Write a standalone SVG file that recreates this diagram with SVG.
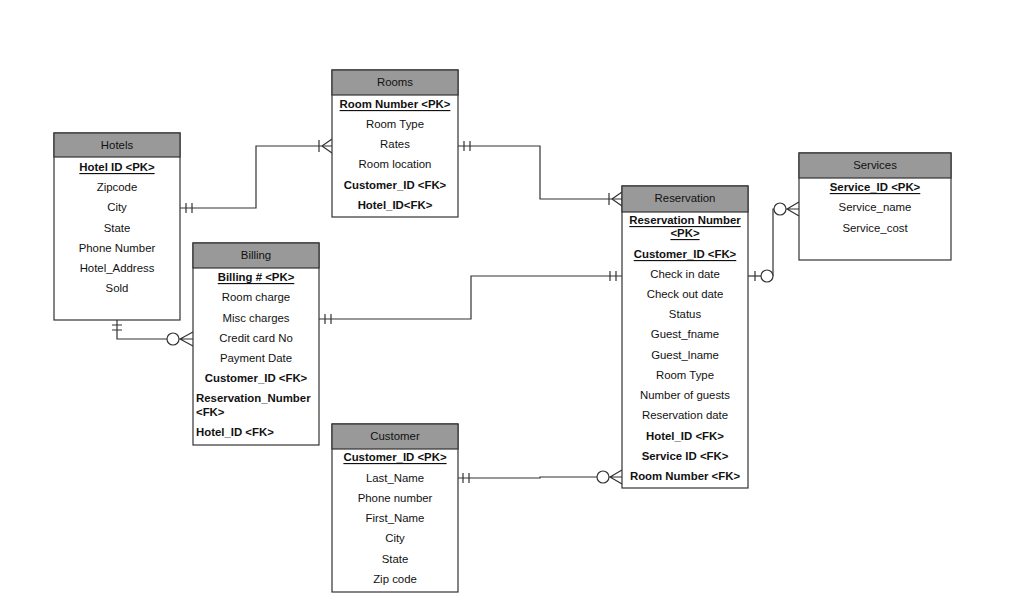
<svg xmlns="http://www.w3.org/2000/svg" width="1024" height="607" viewBox="0 0 1024 607">
<style>
.box{fill:#fff;stroke:#333;stroke-width:1.2}
.hdr{fill:#999;stroke:#333;stroke-width:1.2}
text{font-family:"Liberation Sans",Arial,sans-serif;font-size:11.4px;fill:#111;text-anchor:middle;dominant-baseline:central}
.b{font-weight:bold}
.u{text-decoration:underline}
.l{text-anchor:start}
.c{fill:none;stroke:#333;stroke-width:1.2}
.o{fill:#fff;stroke:#333;stroke-width:1.2}
</style>
<rect width="1024" height="607" fill="#fff"/>
<g id="connectors">
<!-- Hotels - Rooms -->
<polyline class="c" points="180,208 256,208 256,146 332,146"/>
<path class="c" d="M186,203V213M192,203V213M319,140V152M322,146L332,139M322,146L332,153"/>
<!-- Rooms - Reservation -->
<polyline class="c" points="458,146 540,146 540,199 622,199"/>
<path class="c" d="M464,141V151M470,141V151M609,193V205M612,199L622,192M612,199L622,206"/>
<!-- Hotels - Billing -->
<polyline class="c" points="117,320 117,339 167,339"/>
<path class="c" d="M112,325H122M112,330H122M179,339H193M180,339L193,332M180,339L193,346"/>
<circle class="o" cx="173" cy="339" r="6"/>
<!-- Billing - Reservation -->
<polyline class="c" points="319,319 471,319 471,276 622,276"/>
<path class="c" d="M325,314V324M331,314V324M610,271V281M616,271V281"/>
<!-- Reservation - Services -->
<polyline class="c" points="748,276 761,276"/>
<polyline class="c" points="773,276 773,209 774,209"/>
<path class="c" d="M755,271V281M786,209H799M787,209L799,202M787,209L799,216"/>
<circle class="o" cx="767" cy="276" r="6"/>
<circle class="o" cx="780" cy="209" r="6"/>
<!-- Customer - Reservation -->
<polyline class="c" points="458,478 540,478 540,477 597,477"/>
<path class="c" d="M463,473V483M469,473V483M609,477H622M610,477L622,470M610,477L622,484"/>
<circle class="o" cx="603" cy="477" r="6"/>
</g>
<g id="hotels">
<rect class="box" x="54" y="133" width="126" height="187"/>
<rect class="hdr" x="54" y="133" width="126" height="24"/>
<text x="117" y="145">Hotels</text>
<text class="b u" x="117" y="167">Hotel ID &lt;PK&gt;</text>
<text x="117" y="187">Zipcode</text>
<text x="117" y="207">City</text>
<text x="117" y="228">State</text>
<text x="117" y="248">Phone Number</text>
<text x="117" y="268">Hotel_Address</text>
<text x="117" y="288">Sold</text>
</g>
<g id="rooms">
<rect class="box" x="332" y="70" width="126" height="147"/>
<rect class="hdr" x="332" y="70" width="126" height="25"/>
<text x="395" y="82">Rooms</text>
<text class="b u" x="395" y="104">Room Number &lt;PK&gt;</text>
<text x="395" y="124">Room Type</text>
<text x="395" y="144">Rates</text>
<text x="395" y="164">Room location</text>
<text class="b" x="395" y="185">Customer_ID &lt;FK&gt;</text>
<text class="b" x="395" y="205">Hotel_ID&lt;FK&gt;</text>
</g>
<g id="billing">
<rect class="box" x="193" y="243" width="126" height="202"/>
<rect class="hdr" x="193" y="243" width="126" height="25"/>
<text x="256" y="255">Billing</text>
<text class="b u" x="256" y="277">Billing # &lt;PK&gt;</text>
<text x="256" y="297">Room charge</text>
<text x="256" y="318">Misc charges</text>
<text x="256" y="338">Credit card No</text>
<text x="256" y="358">Payment Date</text>
<text class="b" x="256" y="378">Customer_ID &lt;FK&gt;</text>
<text class="b l" x="196" y="398">Reservation_Number</text>
<text class="b l" x="196" y="412">&lt;FK&gt;</text>
<text class="b l" x="196" y="432">Hotel_ID &lt;FK&gt;</text>
</g>
<g id="customer">
<rect class="box" x="332" y="424" width="126" height="168"/>
<rect class="hdr" x="332" y="424" width="126" height="25"/>
<text x="395" y="436">Customer</text>
<text class="b u" x="395" y="457">Customer_ID &lt;PK&gt;</text>
<text x="395" y="478">Last_Name</text>
<text x="395" y="498">Phone number</text>
<text x="395" y="518">First_Name</text>
<text x="395" y="538">City</text>
<text x="395" y="559">State</text>
<text x="395" y="579">Zip code</text>
</g>
<g id="reservation">
<rect class="box" x="622" y="186" width="126" height="302"/>
<rect class="hdr" x="622" y="186" width="126" height="26"/>
<text x="685" y="198">Reservation</text>
<text class="b u" x="685" y="220">Reservation Number</text>
<text class="b u" x="685" y="233">&lt;PK&gt;</text>
<text class="b u" x="685" y="254">Customer_ID &lt;FK&gt;</text>
<text x="685" y="274">Check in date</text>
<text x="685" y="294">Check out date</text>
<text x="685" y="314">Status</text>
<text x="685" y="334">Guest_fname</text>
<text x="685" y="355">Guest_lname</text>
<text x="685" y="375">Room Type</text>
<text x="685" y="395">Number of guests</text>
<text x="685" y="415">Reservation date</text>
<text class="b" x="685" y="436">Hotel_ID &lt;FK&gt;</text>
<text class="b" x="685" y="456">Service ID &lt;FK&gt;</text>
<text class="b" x="685" y="476">Room Number &lt;FK&gt;</text>
</g>
<g id="services">
<rect class="box" x="799" y="153" width="152" height="107"/>
<rect class="hdr" x="799" y="153" width="152" height="25"/>
<text x="875" y="165">Services</text>
<text class="b u" x="875" y="187">Service_ID &lt;PK&gt;</text>
<text x="875" y="207">Service_name</text>
<text x="875" y="228">Service_cost</text>
</g>
</svg>
